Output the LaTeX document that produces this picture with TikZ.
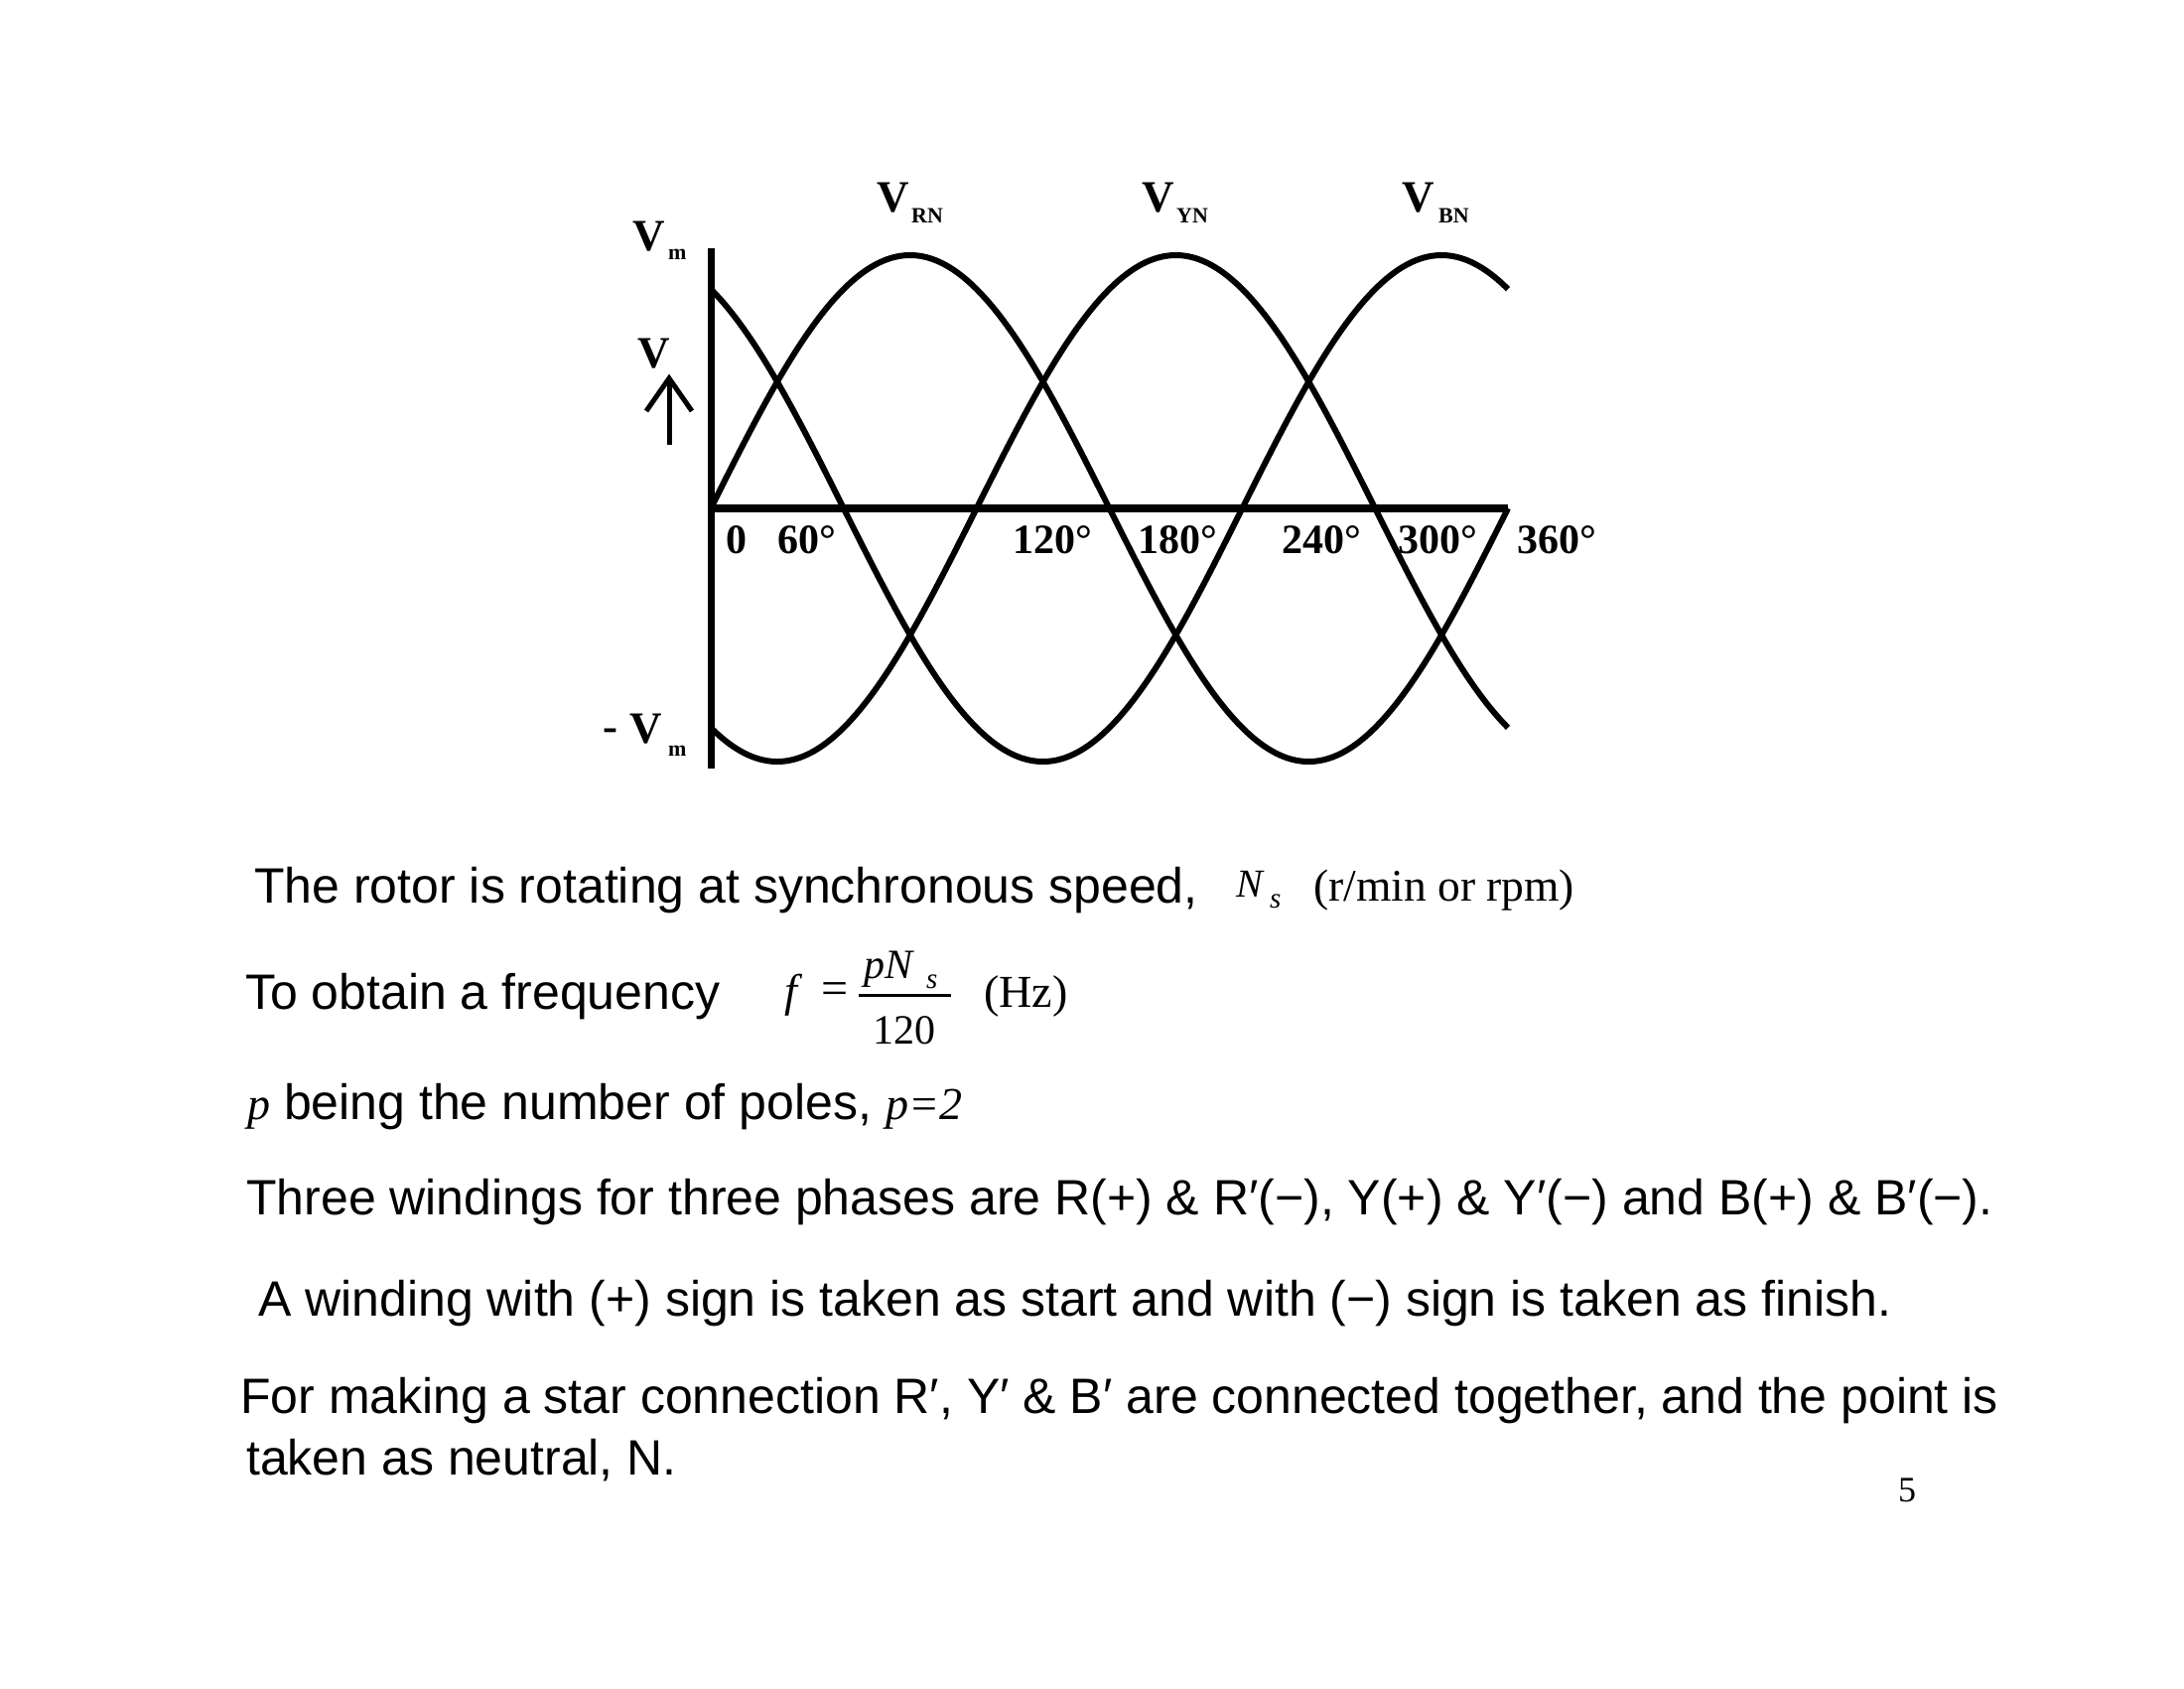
\documentclass[tikz,border=0pt]{standalone}
\usepackage{fontspec}
\setmainfont{Liberation Sans}
\newfontfamily\serif{Liberation Serif}
\newcommand\myfs[1]{\fontsize{#1}{#1}\selectfont}
\begin{document}
\begin{tikzpicture}[x=1pt,y=-1pt,
  txt/.style={anchor=base west,inner sep=0pt,font=\myfs{50}},
  lbl/.style={anchor=base west,inner sep=0pt,font=\serif\bfseries\myfs{45}},
  deg/.style={anchor=base west,inner sep=0pt,font=\serif\bfseries\myfs{42}},
  sub/.style={anchor=base west,inner sep=0pt,font=\serif\bfseries\myfs{22}},
  mth/.style={anchor=base west,inner sep=0pt,font=\serif\itshape\myfs{#1}},
  rom/.style={anchor=base west,inner sep=0pt,font=\serif\myfs{#1}},
  curve/.style={line width=6pt},
  axisline/.style={line width=7pt}]
\useasboundingbox[fill=white] (0,0) rectangle (2200,1700);

% axes
\coordinate (ytop) at (716,250);
\coordinate (ybot) at (716,774);
\coordinate (xorg) at (713,512);
\coordinate (xend) at (1519,512);
\draw[axisline] (ytop) -- (ybot);
\draw[line width=8pt] (xorg) -- (xend);

% three phase curves
\draw[curve] plot[domain=0:360,samples=145,smooth] ({716+\x*2.2306},{512-255*sin(\x)});
\draw[curve] plot[domain=0:360,samples=145,smooth] ({716+\x*2.2306},{512-255*sin(\x-120)});
\draw[curve] plot[domain=0:360,samples=145,smooth] ({716+\x*2.2306},{512-255*sin(\x+120)});

% V arrow
\coordinate (ab) at (674,448);
\coordinate (at) at (674,381);
\coordinate (al) at (651,414);
\coordinate (ar) at (697,414);
\draw[line width=5pt] (ab) -- (at);
\draw[line width=5pt,line join=miter] (al) -- (at) -- (ar);

% axis labels
\node[lbl] (vm) at (637,252) {V};
\node[sub] (vmsub) at (673,261) {m};
\node[lbl] (vv) at (642,370) {V};
\node[lbl] (minus) at (607,746) {-};
\node[lbl] (vmn) at (634,748) {V};
\node[sub] (vmnsub) at (673,761) {m};

\node[lbl] (vrn) at (883,213) {V};
\node[sub] (vrnsub) at (918,224) {RN};
\node[lbl] (vyn) at (1150,213) {V};
\node[sub] (vynsub) at (1185,224) {YN};
\node[lbl] (vbn) at (1412,213) {V};
\node[sub] (vbnsub) at (1449,224) {BN};

\node[deg] (d0) at (731,557) {0};
\node[deg] (d60) at (783,557) {60°};
\node[deg] (d120) at (1020,557) {120°};
\node[deg] (d180) at (1146,557) {180°};
\node[deg] (d240) at (1291,557) {240°};
\node[deg] (d300) at (1408,557) {300°};
\node[deg] (d360) at (1528,557) {360°};

% text
\node[txt] (l1) at (256,909) {The rotor is rotating at synchronous speed,};
\node[mth=40] (ns1) at (1245,903) {N};
\node[mth=29] (ns1s) at (1279,914) {s};
\node[rom=45.5] (rpm) at (1323,907) {(r/min or rpm)};

\node[txt] (l2) at (247,1016) {To obtain a frequency};
\node[mth=46] (ff) at (790,1013) {f};
\node[anchor=center,inner sep=0pt,font=\serif\myfs{48}] (eq) at (841,1001) {=};
\coordinate (fl) at (865,1002);
\coordinate (fr) at (958,1002);
\draw[line width=3pt] (fl) -- (fr);
\node[mth=42] (num) at (870,985) {pN};
\node[mth=29] (nums) at (933,995) {s};
\node[anchor=base,inner sep=0pt,font=\serif\myfs{42}] (den) at (911,1051) {120};
\node[rom=46] (hz) at (991,1014) {(Hz)};

\node[txt] (l3) at (249,1127) {{\serif\itshape\myfs{46}p} being the number of poles, {\serif\itshape\myfs{46}p=2}};

\node[txt] (l4) at (248,1223) {Three windings for three phases are R(+) \& R′(−), Y(+) \& Y′(−) and B(+) \& B′(−).};
\node[txt] (l5) at (260,1325) {A winding with (+) sign is taken as start and with (−) sign is taken as finish.};
\node[txt] (l6) at (242,1423) {For making a star connection R′, Y′ \& B′ are connected together, and the point is};
\node[txt] (l7) at (248,1485) {taken as neutral, N.};

\node[rom=36] (pg) at (1912,1512) {5};
\end{tikzpicture}
\end{document}
